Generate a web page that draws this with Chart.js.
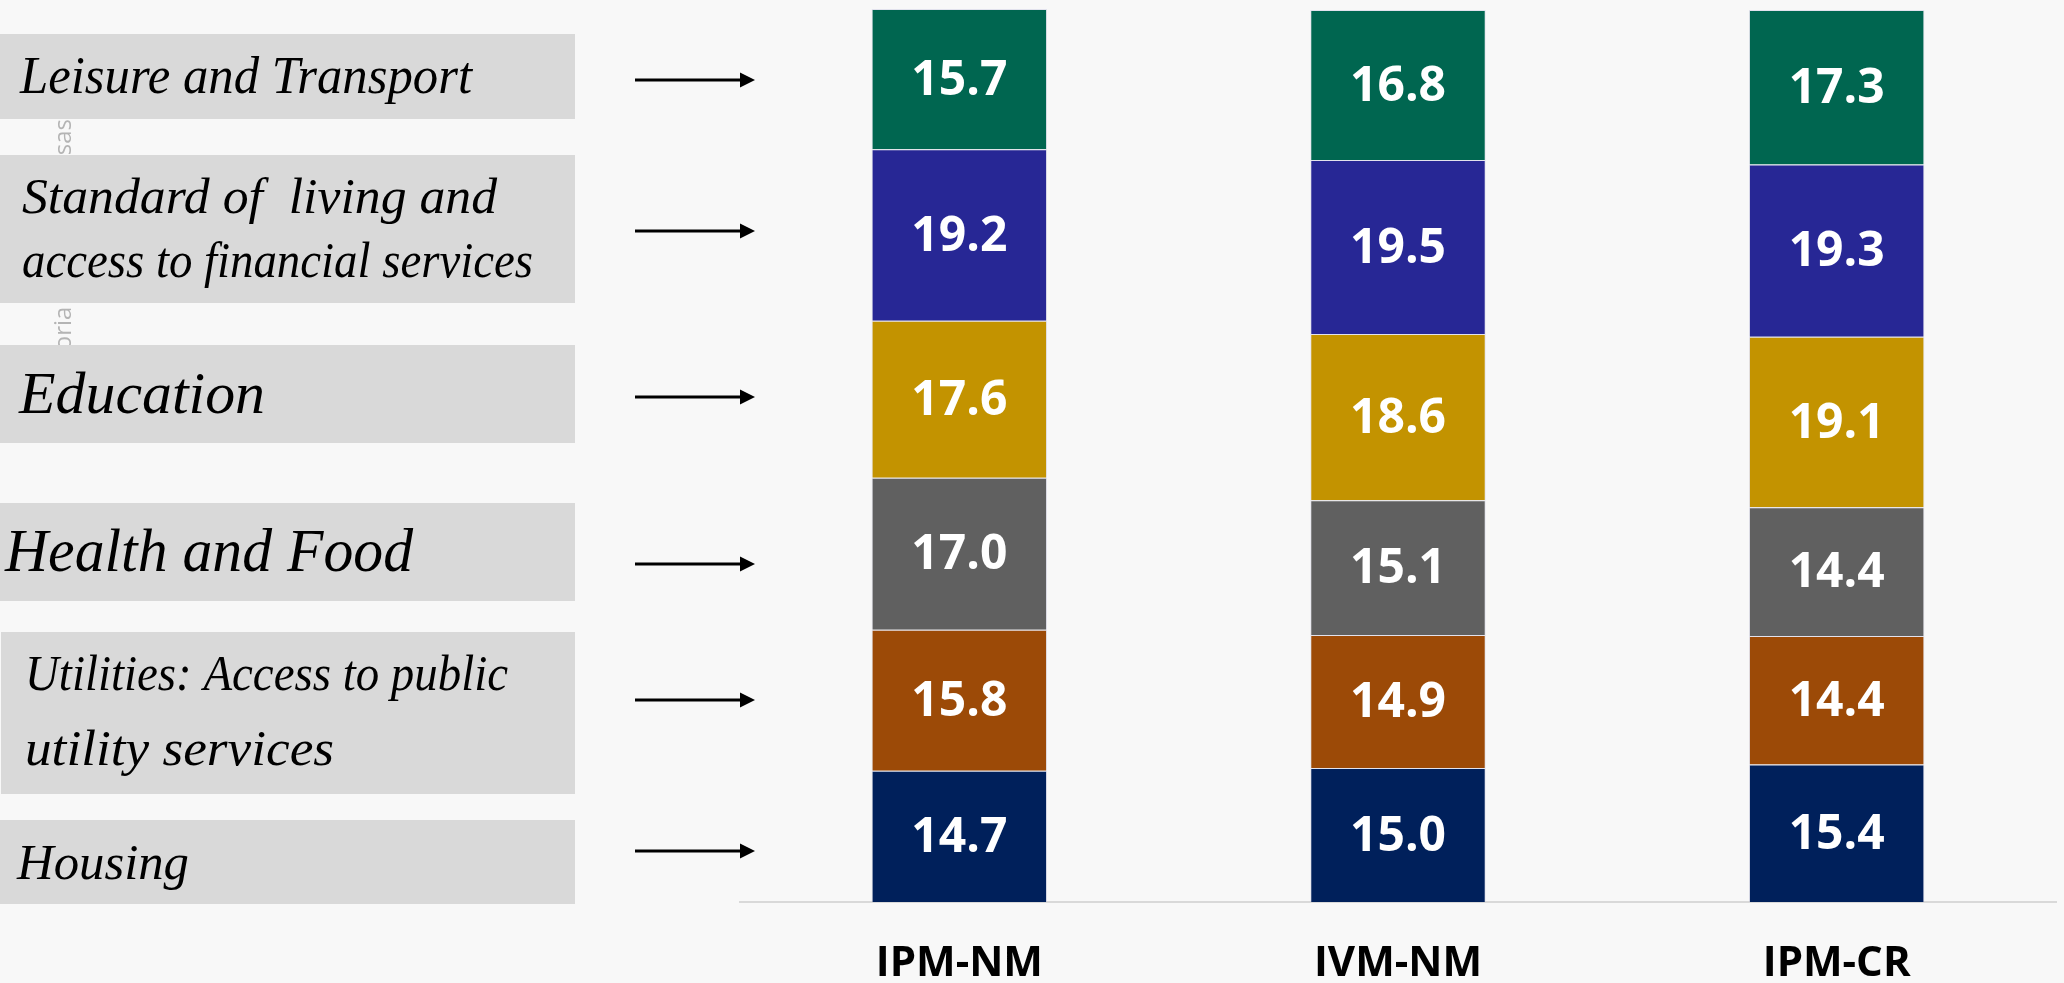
<!DOCTYPE html>
<html>
<head>
<meta charset="utf-8">
<script src="https://cdn.jsdelivr.net/npm/chart.js@4"></script>
<style>
  html, body { margin: 0; padding: 0; background: #f8f8f8; overflow: hidden; }
  #wrap { width: 2064px; height: 983px; position: relative; }
</style>
</head>
<body>
<div id="wrap"><canvas id="grafico"></canvas></div>
<script>
// categories on the x axis
const indices = ['IPM-NM', 'IVM-NM', 'IPM-CR'];

// series, bottom of the stack first
const seriesNames = [
  ['Housing'],
  ['Utilities: Access to public', 'utility services'],
  ['Health and Food'],
  ['Education'],
  ['Standard of  living and', 'access to financial services'],
  ['Leisure and Transport']
];
const housing   = [14.7, 15.0, 15.4];
const utilities = [15.8, 14.9, 14.4];
const health    = [17.0, 15.1, 14.4];
const education = [17.6, 18.6, 19.1];
const standard  = [19.2, 19.5, 19.3];
const leisure   = [15.7, 16.8, 17.3];

const colores = ['#00205b', '#9c4a07', '#606060', '#c39300', '#272795', '#006650'];
const axisTitle = 'Categoria de las empresas';

// left side boxes, same order as the series
const cajas = [
  { top: 820, bottom: 904, left: 0, arrowY: 851, x: 17, lines: [879], size: 51, widths: [172] },
  { top: 632, bottom: 794, left: 1, arrowY: 700, x: 25, lines: [690, 765], size: 51, widths: [483, 309] },
  { top: 503, bottom: 601, left: 0, arrowY: 564, x: 5, lines: [571], size: 62, widths: [408] },
  { top: 345, bottom: 443, left: 0, arrowY: 397, x: 19, lines: [413], size: 60, widths: [246] },
  { top: 155, bottom: 303, left: 0, arrowY: 231, x: 22, lines: [213, 277], size: 50, widths: [475, 511] },
  { top: 34, bottom: 119, left: 0, arrowY: 80, x: 20, lines: [93], size: 53, widths: [452] }
];

const valores = [housing, utilities, health, education, standard, leisure];

const etiquetasLaterales = {
  id: 'etiquetasLaterales',
  afterDraw(chart) {
    const ctx = chart.ctx;
    ctx.save();
    // faint axis title, mostly hidden behind the boxes
    ctx.save();
    ctx.translate(64, 119);
    ctx.rotate(-Math.PI / 2);
    ctx.font = '24px "Open Sans"';
    ctx.fillStyle = '#b4b4b4';
    ctx.textAlign = 'right';
    ctx.textBaseline = 'middle';
    ctx.fillText(axisTitle, 0, 0);
    ctx.restore();

    cajas.forEach((c, i) => {
      ctx.fillStyle = '#d9d9d9';
      ctx.fillRect(c.left, c.top, 575 - c.left, c.bottom - c.top);

      ctx.fillStyle = '#000';
      ctx.font = 'italic ' + c.size + 'px "Liberation Serif"';
      ctx.textBaseline = 'alphabetic';
      ctx.textAlign = 'left';
      seriesNames[i].forEach((t, k) => {
        const sx = c.widths[k] / ctx.measureText(t).width;
        ctx.save();
        ctx.translate(c.x, c.lines[k]);
        ctx.scale(sx, 1);
        ctx.fillText(t, 0, 0);
        ctx.restore();
      });

      // arrow
      ctx.strokeStyle = '#000';
      ctx.lineWidth = 3;
      ctx.beginPath();
      ctx.moveTo(635, c.arrowY);
      ctx.lineTo(745, c.arrowY);
      ctx.stroke();
      ctx.beginPath();
      ctx.moveTo(740, c.arrowY - 7.5);
      ctx.lineTo(755, c.arrowY);
      ctx.lineTo(740, c.arrowY + 7.5);
      ctx.closePath();
      ctx.fillStyle = '#000';
      ctx.fill();
    });
    ctx.restore();
  }
};

const valoresEnBarras = {
  id: 'valoresEnBarras',
  afterDatasetsDraw(chart) {
    const ctx = chart.ctx;
    ctx.save();
    ctx.font = 'bold 48px "Open Sans"';
    ctx.fillStyle = '#fff';
    ctx.textAlign = 'center';
    ctx.textBaseline = 'middle';
    chart.data.datasets.forEach((ds, i) => {
      chart.getDatasetMeta(i).data.forEach((el, j) => {
        const p = el.getProps(['x', 'y', 'base'], true);
        ctx.fillText(ds.data[j].toFixed(1), p.x, (p.y + p.base) / 2 + 2);
      });
    });
    ctx.restore();
  }
};

new Chart(document.getElementById('grafico'), {
  type: 'bar',
  data: {
    labels: indices,
    datasets: valores.map((v, i) => ({
      label: seriesNames[i].join(' '),
      data: v,
      backgroundColor: colores[i],
      borderColor: 'rgba(200, 200, 225, 0.45)',
      borderWidth: 1,
      barPercentage: 0.4,
      categoryPercentage: 1
    }))
  },
  options: {
    responsive: true,
    maintainAspectRatio: false,
    animation: false,
    layout: { padding: { left: 740, right: 8, top: 9, bottom: -35 } },
    plugins: {
      legend: { display: false },
      tooltip: { enabled: false }
    },
    scales: {
      x: {
        stacked: true,
        grid: { display: false },
        border: { display: true, color: '#d9d9d9', width: 2 },
        ticks: {
          color: '#000',
          padding: 36,
          font: { family: '"Open Sans"', weight: 'bold', size: 42, lineHeight: 0.857 }
        }
      },
      y: {
        stacked: true,
        display: false,
        min: 0,
        max: 100
      }
    }
  },
  plugins: [etiquetasLaterales, valoresEnBarras]
});
</script>
</body>
</html>
